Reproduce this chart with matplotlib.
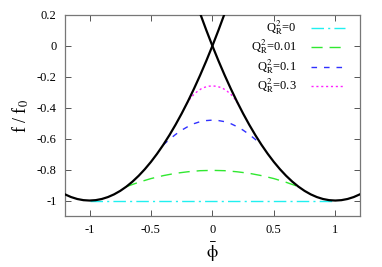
import matplotlib
matplotlib.use("Agg")
import matplotlib.pyplot as plt

plt.rcParams['font.family'] = ['Liberation Serif', 'DejaVu Serif']
plt.rcParams['mathtext.fontset'] = 'stix'
plt.rcParams['axes.unicode_minus'] = False

# black boundary curve (left branch)
phi_black = [-1.2, -1.15, -1.1, -1.05, -1.0, -0.95, -0.9, -0.85, -0.8, -0.75, -0.7,
             -0.65, -0.6, -0.55, -0.5, -0.45, -0.4, -0.35, -0.3, -0.25, -0.2,
             -0.15, -0.1, -0.05, 0.0, 0.05, 0.1]
f_black = [-0.96, -0.9775, -0.99, -0.9975, -1.0, -0.9975, -0.99, -0.9775, -0.96, -0.9375, -0.91,
           -0.8775, -0.84, -0.7975, -0.75, -0.6975, -0.64, -0.5775, -0.51, -0.4375, -0.36,
           -0.2775, -0.19, -0.0975, 0.0, 0.1025, 0.21]

# Q_R^2 = 0
phi_q0 = [-1.0, 1.0]
f_q0 = [-1.0, -1.0]
# Q_R^2 = 0.01
phi_q001 = [-0.7, -0.6, -0.5, -0.4, -0.3, -0.2, -0.1, 0.0, 0.1, 0.2, 0.3, 0.4, 0.5, 0.6, 0.7]
f_q001 = [-0.91, -0.882, -0.858, -0.839, -0.824, -0.814, -0.807, -0.805, -0.807, -0.814, -0.824, -0.839, -0.858, -0.882, -0.91]
# Q_R^2 = 0.1
phi_q01 = [-0.4, -0.35, -0.3, -0.25, -0.2, -0.15, -0.1, -0.05, 0.0, 0.05, 0.1, 0.15, 0.2, 0.25, 0.3, 0.35, 0.4]
f_q01 = [-0.64, -0.605, -0.573, -0.545, -0.522, -0.503, -0.49, -0.483, -0.48, -0.483, -0.49, -0.503, -0.522, -0.545, -0.573, -0.605, -0.64]
# Q_R^2 = 0.3
phi_q03 = [-0.21, -0.18, -0.15, -0.12, -0.09, -0.06, -0.03, 0.0, 0.03, 0.06, 0.09, 0.12, 0.15, 0.18, 0.21]
f_q03 = [-0.375, -0.34, -0.313, -0.293, -0.277, -0.267, -0.261, -0.259, -0.261, -0.267, -0.277, -0.293, -0.313, -0.34, -0.375]

labels = [r'Q$_{\rm R}^2$=0', r'Q$_{\rm R}^2$=0.01', r'Q$_{\rm R}^2$=0.1', r'Q$_{\rm R}^2$=0.3']
colors = ['#20f0f0', '#30e830', '#3030ff', '#ff20ff']
dashes = [(9, 3, 1.5, 3), (8, 5), (4, 5), (1.5, 2)]

xticks = [-1, -0.5, 0, 0.5, 1]
xticklabels = ['-1', '-0.5', '0', '0.5', '1']
yticks = [0.2, 0, -0.2, -0.4, -0.6, -0.8, -1]
yticklabels = ['0.2', '0', '-0.2', '-0.4', '-0.6', '-0.8', '-1']

fig = plt.figure(figsize=(3.82, 2.67), dpi=100)
ax = fig.add_axes([0.170, 0.191, 0.772, 0.753])

series = [(phi_q0, f_q0), (phi_q001, f_q001), (phi_q01, f_q01), (phi_q03, f_q03)]
for (px, fy), c, d in zip(series, colors, dashes):
    ax.plot(px, fy, color=c, lw=1.0, dashes=d)

ax.plot(phi_black, f_black, color='black', lw=1.6, zorder=5)
ax.plot([-p for p in phi_black], f_black, color='black', lw=1.6, zorder=5)

ax.set_xlim(-1.2, 1.2)
ax.set_ylim(-1.1, 0.2)
ax.set_xticks(xticks)
ax.set_xticklabels(xticklabels)
ax.set_yticks(yticks)
ax.set_yticklabels(yticklabels)
ax.tick_params(direction='in', length=4, width=0.7, color='#555555', labelsize=9,
               top=True, right=True, pad=6)
for s in ax.spines.values():
    s.set_color('#777777')
    s.set_linewidth(0.9)

ax.set_xlabel(r'$\bar{\mathrm{\phi}}$', fontsize=13, labelpad=3)
ax.set_ylabel(r'f / f$_0$', fontsize=13, labelpad=4)

# gnuplot-style legend (text right-aligned, sample to the right)
ys = [0.935, 0.84, 0.742, 0.647]
for lab, c, d, yy in zip(labels, colors, dashes, ys):
    ax.text(0.786, yy, lab, transform=ax.transAxes, ha='right', va='center', fontsize=9)
    ax.plot([0.834, 0.949], [yy, yy], transform=ax.transAxes, color=c, lw=1.0,
            dashes=d, clip_on=False)

fig.savefig('out.png', dpi=100)
